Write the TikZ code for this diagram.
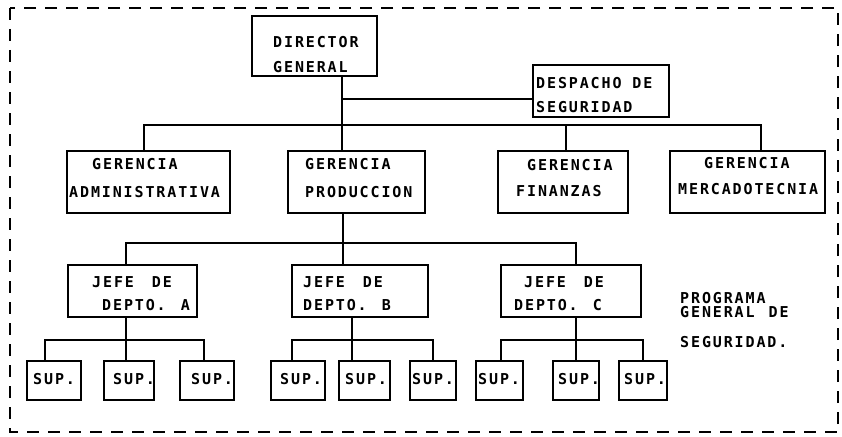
\documentclass[tikz,border=0pt]{standalone}
\usepackage{fontspec}
\newfontfamily\dotfont[LetterSpace=12.5]{DejaVu Sans Mono}
\begin{document}
\begin{tikzpicture}[x=1pt,y=-1pt,
  box/.style={draw, line width=1.6pt, inner sep=0pt},
  conn/.style={line width=1.6pt},
  txt/.style={anchor=base west, inner sep=0pt, font=\dotfont\bfseries\fontsize{15}{17}\selectfont},
  frame/.style={line width=1.4pt, dash pattern=on 12pt off 9pt}]
\useasboundingbox (0,0) rectangle (842,436);
\draw[frame] (10,8) rectangle (838,432);
% boxes
\node[box, minimum width=125pt, minimum height=60pt] (dg) at (314.5,46) {};
\node[box, minimum width=136pt, minimum height=52pt] (ds) at (601,91) {};
\node[box, minimum width=163pt, minimum height=62pt] (ga) at (148.5,182) {};
\node[box, minimum width=137pt, minimum height=62pt] (gp) at (356.5,182) {};
\node[box, minimum width=130pt, minimum height=62pt] (gf) at (563,182) {};
\node[box, minimum width=155pt, minimum height=62pt] (gm) at (747.5,182) {};
\node[box, minimum width=129pt, minimum height=52pt] (ja) at (132.5,291) {};
\node[box, minimum width=136pt, minimum height=52pt] (jb) at (360,291) {};
\node[box, minimum width=140pt, minimum height=52pt] (jc) at (571,291) {};
\node[box, minimum width=54pt, minimum height=39pt] (a1) at (54,380.5) {};
\node[box, minimum width=50pt, minimum height=39pt] (a2) at (129,380.5) {};
\node[box, minimum width=54pt, minimum height=39pt] (a3) at (207,380.5) {};
\node[box, minimum width=54pt, minimum height=39pt] (b1) at (298,380.5) {};
\node[box, minimum width=51pt, minimum height=39pt] (b2) at (364.5,380.5) {};
\node[box, minimum width=46pt, minimum height=39pt] (b3) at (433,380.5) {};
\node[box, minimum width=47pt, minimum height=39pt] (c1) at (499.5,380.5) {};
\node[box, minimum width=46pt, minimum height=39pt] (c2) at (576,380.5) {};
\node[box, minimum width=48pt, minimum height=39pt] (c3) at (643,380.5) {};
% texts
\node[txt] (dgt1) at (273,48) {DIRECTOR};
\node[txt] (dgt2) at (273,72) {GENERAL};
\node[txt] (dst1) at (536,88) {DESPACHO DE};
\node[txt] (dst2) at (536,112) {SEGURIDAD};
\node[txt] (gat1) at (92,169) {GERENCIA};
\node[txt] (gat2) at (69,197) {ADMINISTRATIVA};
\node[txt] (gpt1) at (305,169) {GERENCIA};
\node[txt] (gpt2) at (305,197) {PRODUCCION};
\node[txt] (gft1) at (527,170) {GERENCIA};
\node[txt] (gft2) at (516,196) {FINANZAS};
\node[txt] (gmt1) at (704,168) {GERENCIA};
\node[txt] (gmt2) at (678,194) {MERCADOTECNIA};
\node[txt] (jat1) at (92,287) {JEFE\hspace{18pt}DE};
\node[txt] (jat2) at (102,310) {DEPTO.\hspace{15pt}A};
\node[txt] (jbt1) at (303,287) {JEFE\hspace{18pt}DE};
\node[txt] (jbt2) at (303,310) {DEPTO.\hspace{15pt}B};
\node[txt] (jct1) at (524,287) {JEFE\hspace{18pt}DE};
\node[txt] (jct2) at (514,310) {DEPTO.\hspace{15pt}C};
\node[txt] (a1t) at (33,384) {SUP.};
\node[txt] (a2t) at (113,384) {SUP.};
\node[txt] (a3t) at (191,384) {SUP.};
\node[txt] (b1t) at (280,384) {SUP.};
\node[txt] (b2t) at (345,384) {SUP.};
\node[txt] (b3t) at (412,384) {SUP.};
\node[txt] (c1t) at (478,384) {SUP.};
\node[txt] (c2t) at (558,384) {SUP.};
\node[txt] (c3t) at (624,384) {SUP.};
\node[txt] (pg1) at (680,303) {PROGRAMA};
\node[txt] (pg2) at (680,317) {GENERAL\hspace{14pt}DE};
\node[txt] (pg3) at (680,347) {SEGURIDAD.};
% connector coordinates
\coordinate (xdg) at (342,0);
\coordinate (yds) at (0,99);
\coordinate (yg) at (0,125);
\coordinate (xga) at (144,0);
\coordinate (xgf) at (566,0);
\coordinate (xgm) at (761,0);
\coordinate (xgp) at (343,0);
\coordinate (yj) at (0,243);
\coordinate (xja) at (126,0);
\coordinate (xjb) at (352,0);
\coordinate (xjc) at (576,0);
\coordinate (ys) at (0,340);
\coordinate (xa1) at (45,0);
\coordinate (xa3) at (204,0);
\coordinate (xb1) at (292,0);
\coordinate (xb3) at (433,0);
\coordinate (xc1) at (501,0);
\coordinate (xc3) at (643,0);
% connectors
\draw[conn] (dg.south -| xdg) -- (gp.north -| xdg);
\draw[conn] (xdg |- yds) -- (ds.west |- yds);
\draw[conn] (ga.north -| xga) -- (xga |- yg) -- (xgm |- yg) -- (gm.north -| xgm);
\draw[conn] (xgf |- yg) -- (gf.north -| xgf);
\draw[conn] (gp.south -| xgp) -- (jb.north -| xgp);
\draw[conn] (ja.north -| xja) -- (xja |- yj) -- (xjc |- yj) -- (jc.north -| xjc);
\draw[conn] (ja.south -| xja) -- (a2.north -| xja);
\draw[conn] (a1.north -| xa1) -- (xa1 |- ys) -- (xa3 |- ys) -- (a3.north -| xa3);
\draw[conn] (jb.south -| xjb) -- (b2.north -| xjb);
\draw[conn] (b1.north -| xb1) -- (xb1 |- ys) -- (xb3 |- ys) -- (b3.north -| xb3);
\draw[conn] (jc.south -| xjc) -- (c2.north -| xjc);
\draw[conn] (c1.north -| xc1) -- (xc1 |- ys) -- (xc3 |- ys) -- (c3.north -| xc3);
\end{tikzpicture}
\end{document}
